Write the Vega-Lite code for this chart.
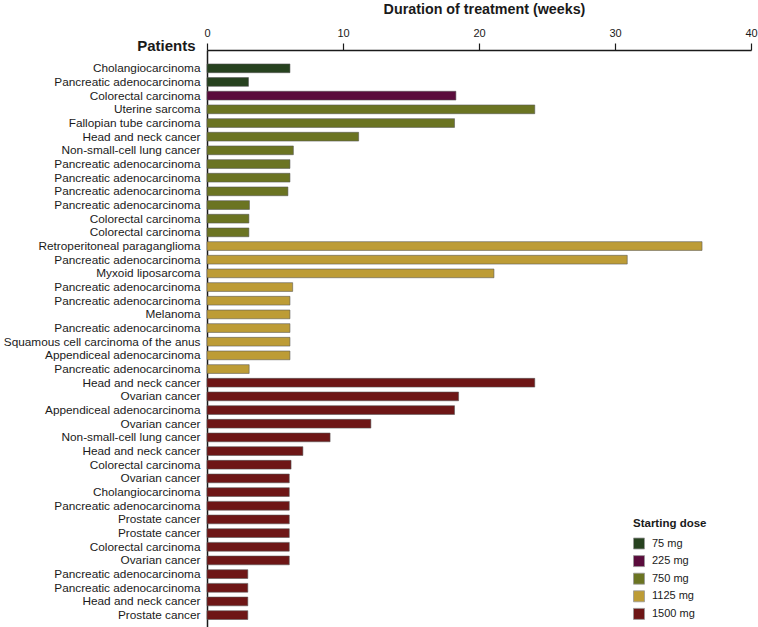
{
  "$schema": "https://vega.github.io/schema/vega-lite/v6.json",
  "width": 544,
  "height": 577,
  "autosize": "none",
  "padding": {"left": 207, "top": 50, "right": 7, "bottom": 0},
  "background": "white",
  "data": {"values": [
    {"id": "01|Cholangiocarcinoma", "dose": "75 mg", "weeks": 6.1},
    {"id": "02|Pancreatic adenocarcinoma", "dose": "75 mg", "weeks": 3.05},
    {"id": "03|Colorectal carcinoma", "dose": "225 mg", "weeks": 18.3},
    {"id": "04|Uterine sarcoma", "dose": "750 mg", "weeks": 24.1},
    {"id": "05|Fallopian tube carcinoma", "dose": "750 mg", "weeks": 18.2},
    {"id": "06|Head and neck cancer", "dose": "750 mg", "weeks": 11.15},
    {"id": "07|Non-small-cell lung cancer", "dose": "750 mg", "weeks": 6.35},
    {"id": "08|Pancreatic adenocarcinoma", "dose": "750 mg", "weeks": 6.1},
    {"id": "09|Pancreatic adenocarcinoma", "dose": "750 mg", "weeks": 6.1},
    {"id": "10|Pancreatic adenocarcinoma", "dose": "750 mg", "weeks": 5.95},
    {"id": "11|Pancreatic adenocarcinoma", "dose": "750 mg", "weeks": 3.12},
    {"id": "12|Colorectal carcinoma", "dose": "750 mg", "weeks": 3.08},
    {"id": "13|Colorectal carcinoma", "dose": "750 mg", "weeks": 3.08},
    {"id": "14|Retroperitoneal paraganglioma", "dose": "1125 mg", "weeks": 36.4},
    {"id": "15|Pancreatic adenocarcinoma", "dose": "1125 mg", "weeks": 30.9},
    {"id": "16|Myxoid liposarcoma", "dose": "1125 mg", "weeks": 21.1},
    {"id": "17|Pancreatic adenocarcinoma", "dose": "1125 mg", "weeks": 6.3},
    {"id": "18|Pancreatic adenocarcinoma", "dose": "1125 mg", "weeks": 6.1},
    {"id": "19|Melanoma", "dose": "1125 mg", "weeks": 6.1},
    {"id": "20|Pancreatic adenocarcinoma", "dose": "1125 mg", "weeks": 6.1},
    {"id": "21|Squamous cell carcinoma of the anus", "dose": "1125 mg", "weeks": 6.1},
    {"id": "22|Appendiceal adenocarcinoma", "dose": "1125 mg", "weeks": 6.1},
    {"id": "23|Pancreatic adenocarcinoma", "dose": "1125 mg", "weeks": 3.1},
    {"id": "24|Head and neck cancer", "dose": "1500 mg", "weeks": 24.1},
    {"id": "25|Ovarian cancer", "dose": "1500 mg", "weeks": 18.5},
    {"id": "26|Appendiceal adenocarcinoma", "dose": "1500 mg", "weeks": 18.2},
    {"id": "27|Ovarian cancer", "dose": "1500 mg", "weeks": 12.05},
    {"id": "28|Non-small-cell lung cancer", "dose": "1500 mg", "weeks": 9.05},
    {"id": "29|Head and neck cancer", "dose": "1500 mg", "weeks": 7.05},
    {"id": "30|Colorectal carcinoma", "dose": "1500 mg", "weeks": 6.18},
    {"id": "31|Ovarian cancer", "dose": "1500 mg", "weeks": 6.05},
    {"id": "32|Cholangiocarcinoma", "dose": "1500 mg", "weeks": 6.05},
    {"id": "33|Pancreatic adenocarcinoma", "dose": "1500 mg", "weeks": 6.05},
    {"id": "34|Prostate cancer", "dose": "1500 mg", "weeks": 6.05},
    {"id": "35|Prostate cancer", "dose": "1500 mg", "weeks": 6.05},
    {"id": "36|Colorectal carcinoma", "dose": "1500 mg", "weeks": 6.05},
    {"id": "37|Ovarian cancer", "dose": "1500 mg", "weeks": 6.05},
    {"id": "38|Pancreatic adenocarcinoma", "dose": "1500 mg", "weeks": 3.0},
    {"id": "39|Pancreatic adenocarcinoma", "dose": "1500 mg", "weeks": 3.0},
    {"id": "40|Head and neck cancer", "dose": "1500 mg", "weeks": 3.0},
    {"id": "41|Prostate cancer", "dose": "1500 mg", "weeks": 3.0}
  ]},
  "mark": {"type": "bar", "stroke": "#555555", "strokeWidth": 0.8, "strokeOpacity": 0.7},
  "encoding": {
    "y": {
      "field": "id", "type": "nominal", "sort": "ascending",
      "scale": {"paddingInner": 0.36, "paddingOuter": 0.785, "align": 0.65},
      "axis": {
        "title": "Patients",
        "titleAngle": 0,
        "titleFont": "Liberation Sans",
        "titleFontSize": 15,
        "titleFontWeight": "bold",
        "titleColor": "#1a1a1a",
        "titleAlign": "right",
        "titleBaseline": "alphabetic",
        "titleX": -12,
        "titleY": 0,
        "labelExpr": "split(datum.value, '|')[1]",
        "labelFont": "Liberation Sans",
        "labelFontSize": 11.8,
        "labelColor": "#1a1a1a",
        "labelPadding": 7,
        "ticks": false,
        "domainColor": "#1a1a1a",
        "domainWidth": 1.5,
        "labelLimit": 300
      }
    },
    "x": {
      "field": "weeks", "type": "quantitative",
      "scale": {"domain": [0, 40], "nice": false},
      "axis": {
        "orient": "top",
        "values": [0, 10, 20, 30, 40],
        "title": "Duration of treatment (weeks)",
        "titleFont": "Liberation Sans",
        "titleFontSize": 14.3,
        "titleFontWeight": "bold",
        "titleColor": "#1a1a1a",
        "titleX": 277,
        "titleY": -37,
        "titleBaseline": "alphabetic",
        "labelFont": "Liberation Sans",
        "labelFontSize": 11,
        "labelColor": "#1a1a1a",
        "labelPadding": 5,
        "labelFlush": false,
        "tickSize": 7,
        "tickColor": "#1a1a1a",
        "tickWidth": 1.2,
        "domainColor": "#1a1a1a",
        "domainWidth": 1.5,
        "grid": false
      }
    },
    "color": {
      "field": "dose", "type": "nominal",
      "scale": {
        "domain": ["75 mg", "225 mg", "750 mg", "1125 mg", "1500 mg"],
        "range": ["#27421f", "#5a0c3c", "#6b7422", "#bd9c36", "#6e1616"]
      },
      "legend": {
        "title": "Starting dose",
        "orient": "none",
        "legendX": 426,
        "legendY": 468,
        "padding": 0,
        "titleFont": "Liberation Sans",
        "titleFontSize": 11.5,
        "titleFontWeight": "bold",
        "titleColor": "#1a1a1a",
        "titlePadding": 8,
        "labelFont": "Liberation Sans",
        "labelFontSize": 11,
        "labelColor": "#1a1a1a",
        "labelOffset": 7,
        "symbolType": "square",
        "symbolSize": 121,
        "symbolStrokeColor": "#999999",
        "symbolStrokeWidth": 0.8,
        "symbolOpacity": 1,
        "rowPadding": 1.6
      }
    }
  },
  "config": {
    "view": {"stroke": null},
    "font": "Liberation Sans"
  }
}
